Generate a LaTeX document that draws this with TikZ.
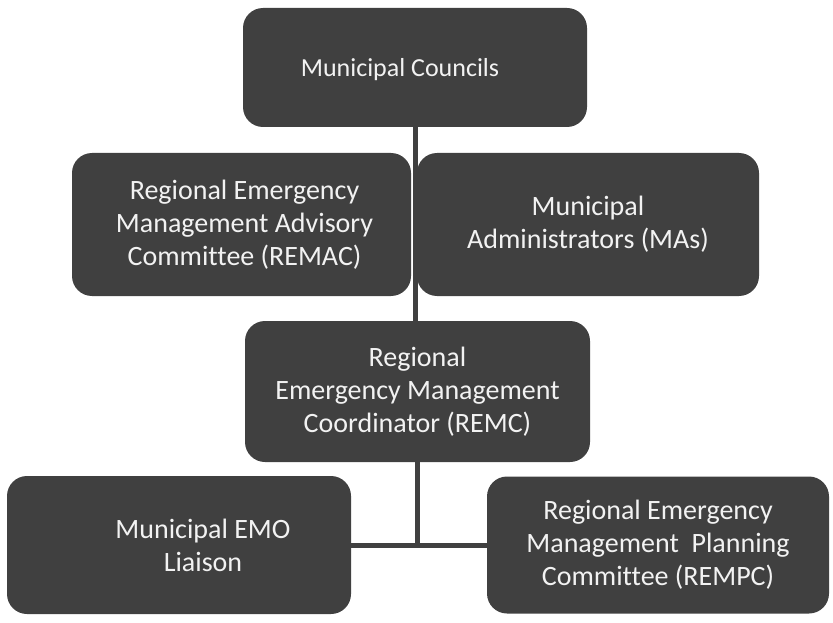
\documentclass[tikz,border=0pt]{standalone}
\usepackage{fontspec}
\setmainfont{Carlito}[Ligatures=NoCommon]
\usetikzlibrary{positioning}

\definecolor{boxgray}{HTML}{404040}
\definecolor{boxwhite}{HTML}{F2F2F2}

\tikzset{
    orgbox/.style={fill=boxgray, rounded corners=20pt, inner sep=0pt},
    orgtext/.style={text=boxwhite, align=center, font=\fontsize{28}{33}\selectfont},
    link/.style={draw=boxgray, line width=5pt}
}

\begin{document}
\begin{tikzpicture}[x=1pt,y=-1pt]
    \useasboundingbox (0,0) rectangle (833,623);

    % Top level
    \node[orgbox, minimum width=344pt, minimum height=119pt,
        label={[orgtext, xshift=-15pt, yshift=-2pt, font=\fontsize{26}{33}\selectfont]center:Municipal Councils}] (councils) at (415,67.5) {};

    % Second row
    \node[orgbox, minimum width=339pt, minimum height=143pt,
        label={[orgtext, xshift=3pt]center:Regional Emergency\\Management Advisory\\Committee (REMAC)}] (remac) at (241.5,224.5) {};
    \node[orgbox, minimum width=342pt, minimum height=143pt,
        label={[orgtext]center:Municipal\\Administrators (MAs)}] (mas) at (588,224.5) {};

    % Coordinator
    \node[orgbox, minimum width=345pt, minimum height=141pt,
        label={[orgtext]center:Regional\\Emergency Management\\Coordinator (REMC)}] (remc) at (417.5,391.5) {};

    % Bottom row
    \node[orgbox, minimum width=344pt, minimum height=138pt,
        label={[orgtext, xshift=24pt]center:Municipal EMO\\Liaison}] (emo) at (179,545) {};
    \node[orgbox, minimum width=342pt, minimum height=137pt,
        label={[orgtext]center:Regional Emergency\\Management\ \ Planning\\Committee (REMPC)}] (rempc) at (658,545) {};

    % Connectors
    \draw[link] (councils.south) -- (councils.south |- remc.north);
    \draw[link] (remc.south) -- (remc.south |- emo.east);
    \draw[link] (emo.east) -- (rempc.west);
\end{tikzpicture}
\end{document}
